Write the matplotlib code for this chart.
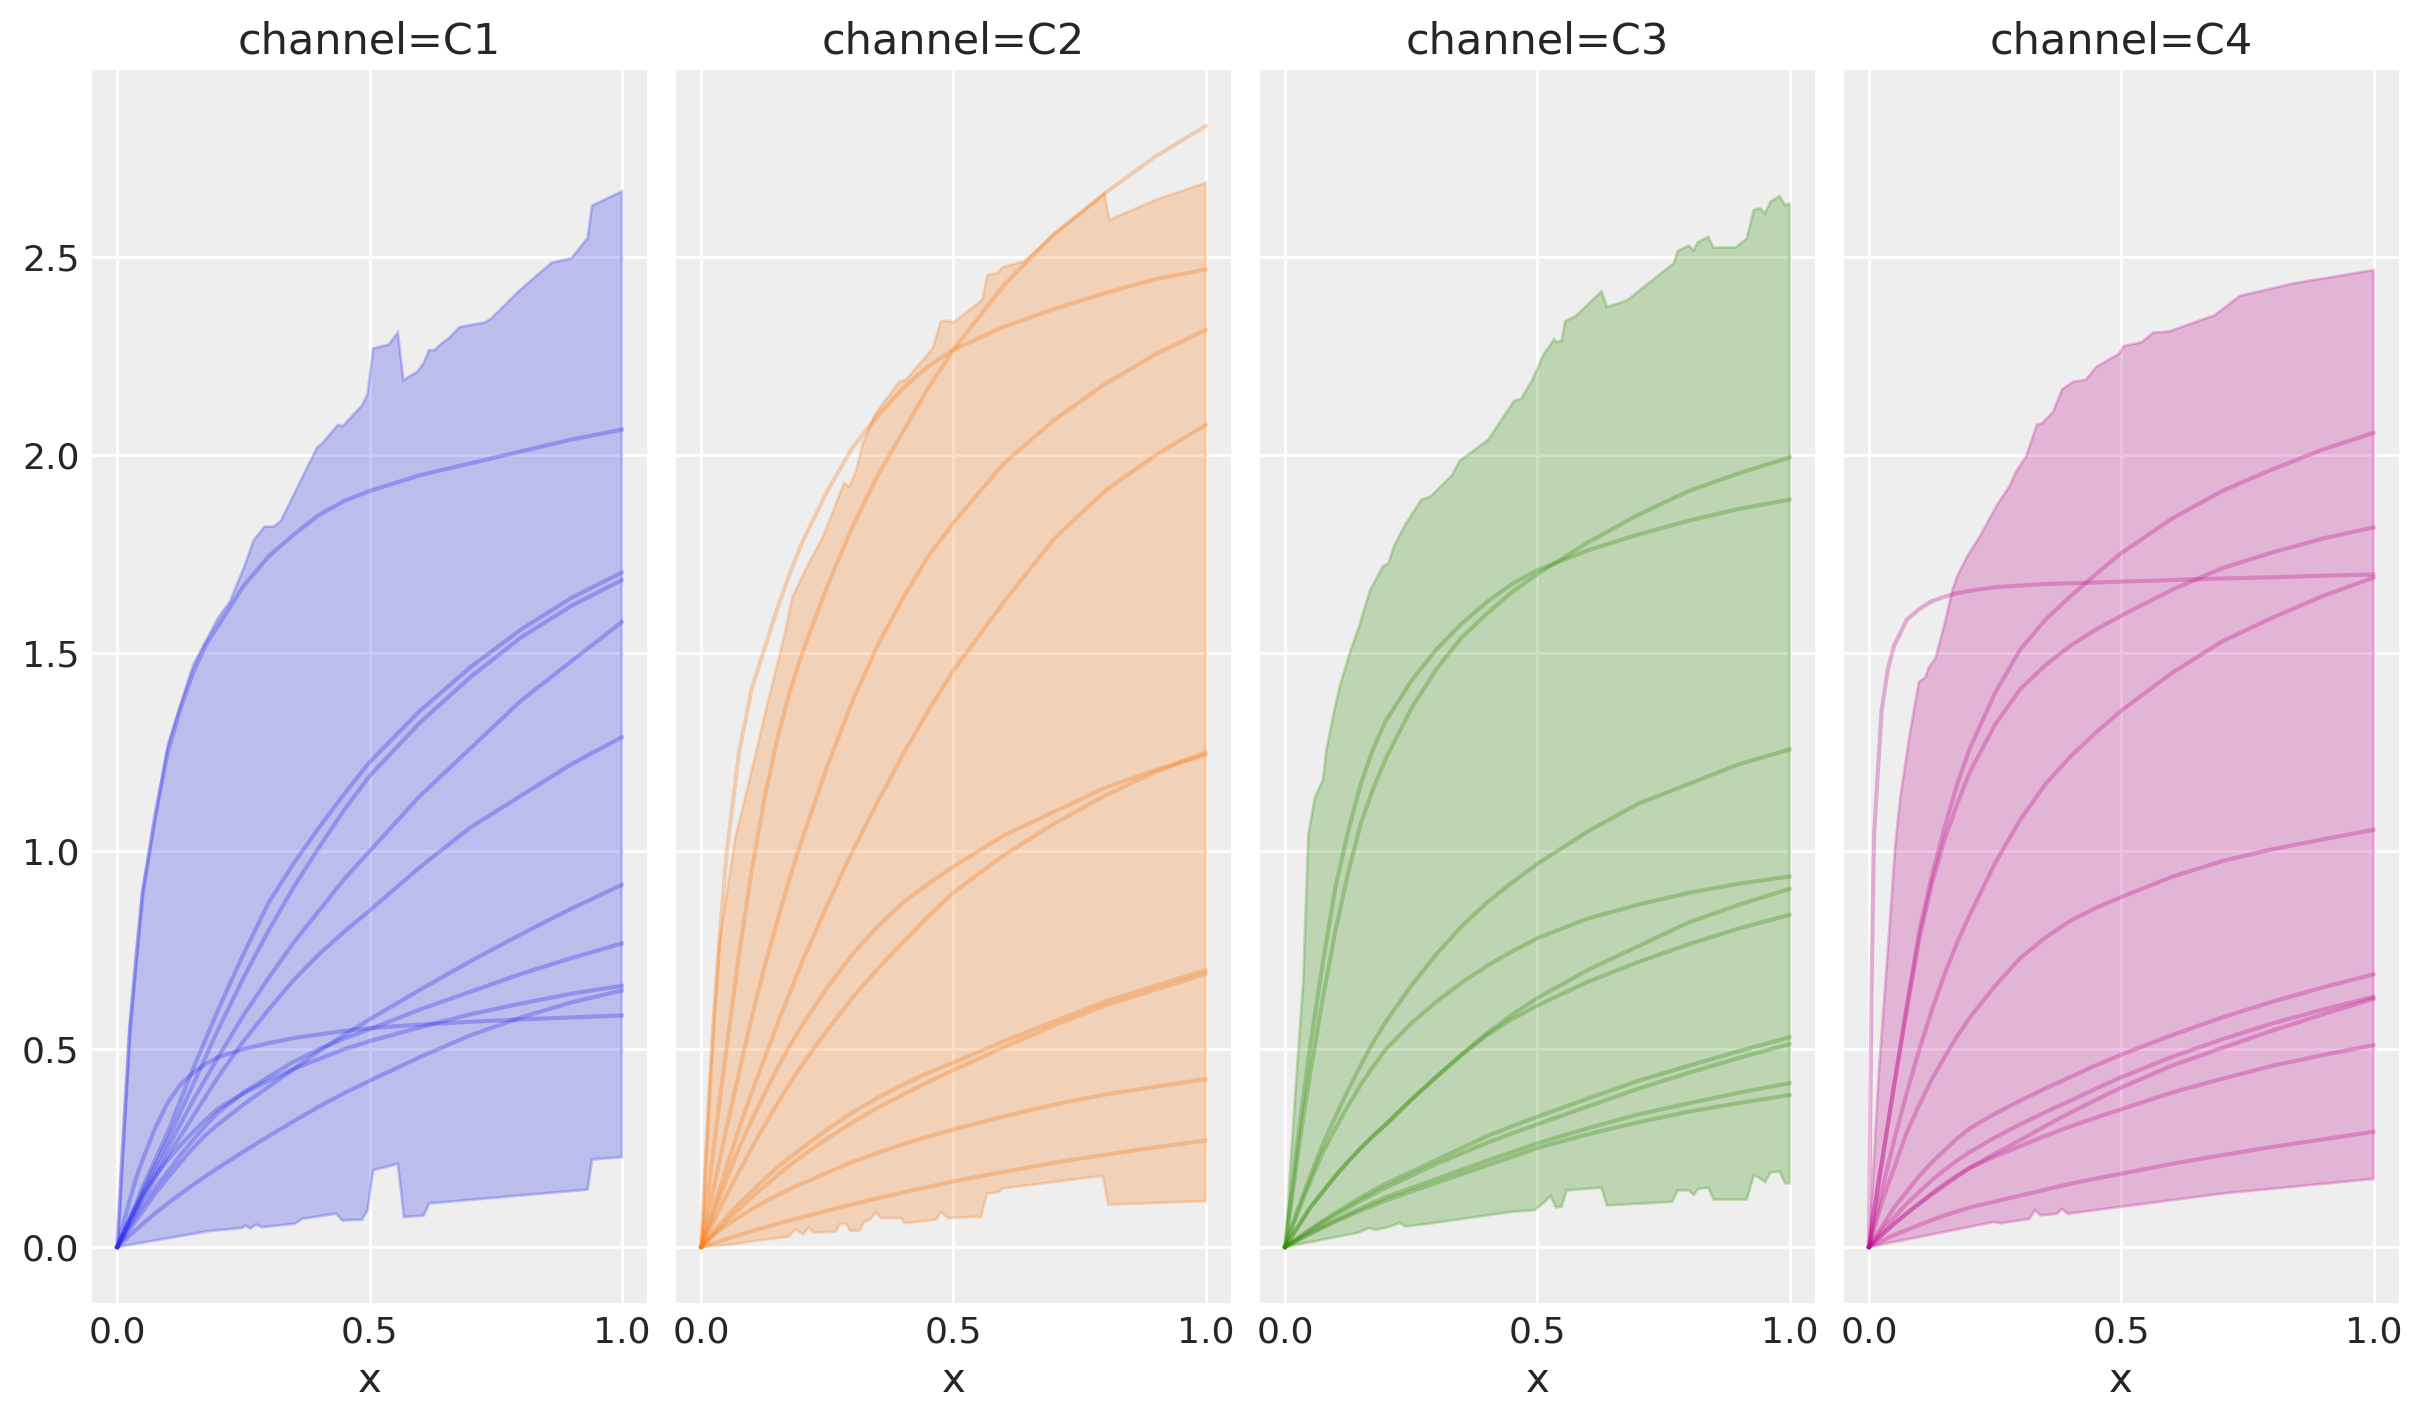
import numpy as np
import matplotlib
matplotlib.use("Agg")
import matplotlib.pyplot as plt

# --- shared x grid for the sampled curves ---
xs = [0, 0.005, 0.01, 0.025, 0.0375, 0.05, 0.075, 0.1, 0.125, 0.15, 0.175, 0.2,
      0.25, 0.3, 0.35, 0.4, 0.45, 0.5, 0.6, 0.7, 0.8, 0.9, 1.0]

channels = ["C1", "C2", "C3", "C4"]
colors = ["#2a2eec", "#fa7c17", "#328c06", "#c10c90"]

# --- channel C1 ---
c1_curves = [
    [0, .12, .23, .55, .73, .89, 1.09, 1.25, 1.36, 1.45, 1.52, 1.57, 1.67, 1.745, 1.80, 1.85, 1.885, 1.91, 1.95, 1.98, 2.01, 2.04, 2.065],
    [0, .015, .03, .075, .11, .15, .22, .29, .37, .45, .525, .6, .74, .87, .97, 1.06, 1.145, 1.225, 1.355, 1.465, 1.56, 1.64, 1.704],
    [0, .014, .028, .07, .105, .14, .205, .27, .34, .41, .48, .55, .68, .8, .91, 1.01, 1.105, 1.19, 1.325, 1.44, 1.54, 1.62, 1.685],
    [0, .013, .026, .065, .098, .13, .19, .25, .31, .37, .425, .48, .585, .68, .77, .85, .93, 1.0, 1.14, 1.26, 1.38, 1.48, 1.579],
    [0, .0125, .025, .06, .09, .12, .175, .23, .28, .33, .38, .43, .52, .6, .675, .74, .797, .85, .96, 1.06, 1.14, 1.22, 1.288],
    [0, .009, .018, .045, .068, .09, .135, .175, .213, .25, .283, .31, .36, .405, .45, .495, .536, .575, .65, .722, .79, .855, .915],
    [0, .011, .022, .055, .08, .105, .15, .19, .232, .27, .307, .34, .39, .43, .468, .5, .527, .55, .6, .645, .69, .73, .767],
    [0, .015, .03, .07, .1, .13, .18, .22, .257, .29, .322, .35, .388, .42, .45, .475, .5, .52, .555, .588, .615, .64, .66],
    [0, .006, .012, .03, .044, .058, .085, .11, .134, .157, .179, .2, .241, .28, .318, .355, .389, .42, .48, .535, .58, .618, .648],
    [0, .025, .05, .12, .175, .22, .3, .365, .41, .44, .462, .48, .5, .515, .528, .537, .546, .553, .562, .569, .575, .58, .585],
]
c1_upper_x = [0, 0.025, 0.05, 0.1, 0.15, 0.2, 0.223, 0.252, 0.27, 0.292, 0.31, 0.324, 0.396, 0.406,
              0.437, 0.447, 0.485, 0.496, 0.507, 0.538, 0.556, 0.567, 0.596, 0.607, 0.618, 0.629,
              0.64, 0.658, 0.678, 0.729, 0.742, 0.8, 0.861, 0.9, 0.932, 0.941, 1.0]
c1_upper_y = [0, 0.56, 0.9, 1.27, 1.47, 1.59, 1.63, 1.72, 1.785, 1.82, 1.82, 1.834, 2.02, 2.03,
              2.077, 2.074, 2.126, 2.155, 2.27, 2.28, 2.31, 2.19, 2.213, 2.233, 2.266, 2.266,
              2.28, 2.297, 2.324, 2.336, 2.347, 2.42, 2.487, 2.498, 2.549, 2.631, 2.667]
c1_lower_x = [0, 0.167, 0.18, 0.247, 0.254, 0.264, 0.275, 0.286, 0.353, 0.366, 0.401, 0.434, 0.446,
              0.485, 0.496, 0.507, 0.556, 0.568, 0.607, 0.618, 0.932, 0.941, 1.0]
c1_lower_y = [0, 0.037, 0.04, 0.048, 0.054, 0.047, 0.057, 0.05, 0.059, 0.071, 0.078, 0.084, 0.067,
              0.069, 0.093, 0.194, 0.21, 0.076, 0.079, 0.11, 0.145, 0.221, 0.227]

# --- channel C2 ---
c2_curves = [
    [0, .05, .1, .25, .38, .5, .74, .95, 1.13, 1.28, 1.4, 1.5, 1.67, 1.82, 1.95, 2.06, 2.17, 2.267, 2.43, 2.56, 2.662, 2.755, 2.832],
    [0, .12, .24, .58, .8, .99, 1.25, 1.41, 1.51, 1.61, 1.7, 1.78, 1.91, 2.02, 2.1, 2.17, 2.225, 2.267, 2.325, 2.37, 2.41, 2.445, 2.47],
    [0, .03, .06, .15, .225, .3, .44, .58, .705, .82, .93, 1.03, 1.215, 1.38, 1.52, 1.64, 1.745, 1.83, 1.98, 2.09, 2.18, 2.255, 2.317],
    [0, .02, .04, .1, .15, .2, .3, .39, .475, .56, .64, .72, .865, 1.0, 1.125, 1.245, 1.355, 1.457, 1.63, 1.79, 1.91, 2.0, 2.077],
    [0, .018, .035, .085, .128, .17, .25, .32, .387, .45, .507, .56, .655, .74, .81, .87, .918, .961, 1.04, 1.1, 1.16, 1.205, 1.243],
    [0, .013, .025, .065, .098, .13, .19, .25, .306, .36, .412, .46, .548, .63, .703, .77, .835, .896, .99, 1.07, 1.14, 1.2, 1.25],
    [0, .008, .015, .04, .058, .075, .11, .14, .171, .2, .226, .25, .297, .34, .377, .41, .44, .466, .52, .57, .62, .66, .699],
    [0, .007, .013, .033, .049, .065, .095, .125, .153, .18, .206, .23, .274, .315, .352, .385, .417, .447, .505, .56, .61, .65, .69],
    [0, .006, .012, .03, .043, .055, .075, .095, .113, .13, .146, .16, .188, .215, .238, .26, .279, .297, .33, .36, .385, .405, .424],
    [0, .002, .004, .01, .015, .02, .03, .04, .049, .058, .067, .075, .092, .108, .123, .138, .152, .166, .19, .213, .233, .252, .269],
]
c2_upper_x = [0, 0.0165, 0.036, 0.067, 0.107, 0.127, 0.166, 0.18, 0.214, 0.24, 0.283, 0.293, 0.307,
              0.32, 0.344, 0.393, 0.406, 0.459, 0.475, 0.488, 0.5, 0.557, 0.567, 0.586, 0.598, 0.64,
              0.7, 0.75, 0.799, 0.809, 0.9, 1.0]
c2_upper_y = [0, 0.41, 0.77, 1.03, 1.24, 1.35, 1.55, 1.64, 1.73, 1.79, 1.93, 1.92, 1.96,
              2.03, 2.103, 2.187, 2.191, 2.271, 2.338, 2.341, 2.336, 2.393, 2.456, 2.46, 2.476, 2.49,
              2.56, 2.61, 2.662, 2.595, 2.645, 2.689]
c2_lower_x = [0, 0.065, 0.115, 0.173, 0.187, 0.202, 0.213, 0.223, 0.267, 0.274, 0.288, 0.295, 0.313,
              0.324, 0.335, 0.346, 0.357, 0.396, 0.403, 0.465, 0.475, 0.49, 0.555, 0.566, 0.587,
              0.598, 0.796, 0.807, 1.0]
c2_lower_y = [0, 0.007, 0.017, 0.026, 0.045, 0.032, 0.05, 0.036, 0.039, 0.058, 0.058, 0.041, 0.041,
              0.064, 0.069, 0.088, 0.073, 0.073, 0.06, 0.069, 0.088, 0.073, 0.077, 0.135, 0.138,
              0.148, 0.18, 0.107, 0.116]

# --- channel C3 ---
c3_curves = [
    [0, .045, .09, .23, .34, .44, .63, .8, .945, 1.07, 1.16, 1.235, 1.36, 1.46, 1.54, 1.6, 1.655, 1.7, 1.78, 1.85, 1.91, 1.955, 1.995],
    [0, .055, .11, .27, .39, .51, .72, .91, 1.05, 1.17, 1.26, 1.33, 1.43, 1.51, 1.575, 1.63, 1.675, 1.71, 1.76, 1.8, 1.835, 1.865, 1.888],
    [0, .02, .04, .095, .138, .18, .26, .33, .397, .46, .518, .57, .66, .74, .81, .87, .921, .968, 1.05, 1.12, 1.17, 1.22, 1.257],
    [0, .018, .035, .085, .126, .165, .24, .3, .357, .41, .457, .5, .565, .62, .668, .71, .747, .78, .83, .865, .895, .918, .936],
    [0, .01, .02, .05, .075, .1, .14, .18, .216, .25, .281, .31, .372, .43, .487, .54, .587, .629, .7, .76, .82, .865, .905],
    [0, .01, .02, .05, .075, .1, .14, .18, .216, .25, .281, .31, .372, .43, .485, .535, .576, .61, .67, .72, .765, .805, .839],
    [0, .0045, .009, .023, .034, .045, .066, .087, .106, .125, .143, .16, .19, .22, .25, .28, .305, .329, .375, .42, .458, .495, .53],
    [0, .0045, .009, .021, .032, .042, .062, .081, .099, .117, .134, .15, .18, .21, .237, .263, .287, .31, .355, .4, .44, .478, .5125],
    [0, .0035, .007, .018, .027, .035, .052, .068, .083, .098, .112, .126, .149, .172, .195, .218, .24, .262, .3, .335, .363, .39, .414],
    [0, .0035, .007, .017, .025, .033, .049, .064, .078, .092, .105, .118, .14, .162, .184, .206, .228, .25, .285, .315, .342, .364, .384],
]
c3_upper_x = [0, 0.0225, 0.036, 0.046, 0.059, 0.075, 0.082, 0.095, 0.108, 0.128, 0.148, 0.168, 0.194,
              0.205, 0.216, 0.238, 0.27, 0.288, 0.331, 0.346, 0.403, 0.454, 0.468, 0.49, 0.512, 0.533,
              0.537, 0.548, 0.555, 0.576, 0.627, 0.638, 0.677, 0.735, 0.771, 0.778, 0.8, 0.81, 0.818,
              0.839, 0.849, 0.893, 0.915, 0.929, 0.942, 0.951, 0.962, 0.98, 0.991, 1.0]
c3_upper_y = [0, 0.43, 0.67, 1.04, 1.135, 1.18, 1.257, 1.34, 1.415, 1.5, 1.573, 1.658, 1.72,
              1.727, 1.771, 1.825, 1.888, 1.896, 1.95, 1.986, 2.04, 2.138, 2.143, 2.191, 2.254, 2.293,
              2.286, 2.289, 2.339, 2.352, 2.414, 2.375, 2.391, 2.45, 2.486, 2.516, 2.53, 2.518, 2.539,
              2.552, 2.525, 2.525, 2.548, 2.62, 2.625, 2.611, 2.641, 2.655, 2.632, 2.636]
c3_lower_x = [0, 0.144, 0.166, 0.18, 0.209, 0.227, 0.238, 0.274, 0.45, 0.494, 0.512, 0.526, 0.537,
              0.548, 0.558, 0.627, 0.638, 0.767, 0.778, 0.8, 0.81, 0.818, 0.839, 0.849, 0.915, 0.929,
              0.942, 0.951, 0.962, 0.98, 0.991, 1.0]
c3_lower_y = [0, 0.036, 0.048, 0.043, 0.052, 0.061, 0.052, 0.057, 0.089, 0.093, 0.111, 0.129, 0.1,
              0.102, 0.143, 0.15, 0.105, 0.114, 0.143, 0.143, 0.132, 0.146, 0.15, 0.12, 0.12, 0.182,
              0.173, 0.164, 0.188, 0.191, 0.161, 0.161]

# --- channel C4 ---
c4_curves = [
    [0, .65, 1.04, 1.355, 1.46, 1.52, 1.585, 1.612, 1.632, 1.643, 1.652, 1.658, 1.667, 1.671, 1.675, 1.677, 1.679, 1.681, 1.685, 1.689, 1.692, 1.696, 1.699],
    [0, .045, .09, .21, .31, .41, .61, .8, .94, 1.06, 1.17, 1.26, 1.4, 1.51, 1.585, 1.645, 1.7, 1.753, 1.84, 1.91, 1.965, 2.015, 2.057],
    [0, .045, .09, .21, .31, .41, .6, .78, .92, 1.03, 1.12, 1.2, 1.32, 1.41, 1.47, 1.52, 1.56, 1.595, 1.66, 1.715, 1.755, 1.79, 1.818],
    [0, .03, .06, .14, .205, .27, .39, .5, .6, .69, .77, .84, .97, 1.08, 1.17, 1.24, 1.3, 1.355, 1.45, 1.53, 1.59, 1.645, 1.691],
    [0, .023, .045, .11, .157, .2, .29, .36, .425, .48, .533, .58, .66, .73, .782, .825, .857, .884, .935, .975, 1.005, 1.03, 1.054],
    [0, .01, .02, .05, .075, .1, .14, .18, .214, .245, .274, .3, .337, .37, .401, .43, .459, .486, .535, .58, .62, .656, .689],
    [0, .008, .016, .04, .058, .075, .11, .14, .169, .195, .219, .24, .277, .31, .341, .37, .4, .429, .48, .525, .565, .6, .632],
    [0, .006, .012, .03, .045, .06, .085, .11, .133, .155, .178, .2, .236, .27, .306, .34, .372, .403, .458, .503, .547, .588, .627],
    [0, .006, .012, .03, .044, .058, .085, .11, .136, .16, .181, .2, .229, .255, .281, .305, .327, .348, .39, .425, .458, .485, .51],
    [0, .003, .006, .015, .023, .03, .043, .056, .068, .08, .09, .1, .115, .13, .145, .16, .173, .185, .21, .232, .253, .272, .291],
]
c4_upper_x = [0, 0.02, 0.042, 0.052, 0.062, 0.082, 0.099, 0.112, 0.118, 0.132, 0.142, 0.152, 0.165,
              0.175, 0.194, 0.221, 0.254, 0.279, 0.29, 0.311, 0.333, 0.343, 0.365, 0.383, 0.405,
              0.43, 0.451, 0.495, 0.505, 0.541, 0.563, 0.595, 0.685, 0.735, 0.843, 1.0]
c4_upper_y = [0, 0.45, 0.83, 1.013, 1.135, 1.305, 1.427, 1.44, 1.463, 1.488, 1.536, 1.585, 1.658,
              1.695, 1.743, 1.798, 1.875, 1.923, 1.956, 1.996, 2.078, 2.081, 2.11, 2.167, 2.186,
              2.191, 2.224, 2.256, 2.276, 2.286, 2.31, 2.313, 2.354, 2.403, 2.435, 2.468]
c4_lower_x = [0, 0.247, 0.261, 0.318, 0.329, 0.34, 0.372, 0.383, 0.394, 0.7, 1.0]
c4_lower_y = [0, 0.063, 0.06, 0.071, 0.093, 0.08, 0.084, 0.096, 0.084, 0.135, 0.172]

curves = [c1_curves, c2_curves, c3_curves, c4_curves]
bands = [
    (c1_upper_x, c1_upper_y, c1_lower_x, c1_lower_y),
    (c2_upper_x, c2_upper_y, c2_lower_x, c2_lower_y),
    (c3_upper_x, c3_upper_y, c3_lower_x, c3_lower_y),
    (c4_upper_x, c4_upper_y, c4_lower_x, c4_lower_y),
]

# --- style close to arviz-darkgrid ---
text_c = "#262626"
plt.rcParams.update({
    "font.family": ["DejaVu Sans"],
    "axes.facecolor": "#eeeeee",
    "axes.edgecolor": "white",
    "axes.grid": True,
    "axes.axisbelow": True,
    "grid.color": "white",
    "grid.linewidth": 1.0,
    "text.color": text_c,
    "axes.labelcolor": text_c,
    "xtick.color": text_c,
    "ytick.color": text_c,
})

fig, axes = plt.subplots(1, 4, sharey=True, figsize=(2423 / 200, 1423 / 200), dpi=200)
fig.subplots_adjust(left=0.038, right=0.990, bottom=0.0843, top=0.9508, wspace=0.052)

for ax, name, col, chan_curves, (ux, uy, lx, ly) in zip(axes, channels, colors, curves, bands):
    # hdi-like band as one polygon: upper edge out, lower edge back
    px = np.concatenate([ux, lx[::-1]])
    py = np.concatenate([uy, ly[::-1]])
    ax.fill(px, py, color=col, alpha=0.25, lw=1.0)
    for c in chan_curves:
        ax.plot(xs, c, color=col, alpha=0.3, lw=1.5, solid_joinstyle="round")
    ax.set_title(f"channel={name}", fontsize=15.5)
    ax.set_xlabel("x", fontsize=14.5)
    ax.set_xticks([0, 0.5, 1.0])
    ax.tick_params(length=0, labelsize=13, pad=4.5)
    for s in ax.spines.values():
        s.set_visible(False)

axes[0].set_yticks([0, 0.5, 1.0, 1.5, 2.0, 2.5])
axes[0].set_xlim(-0.05, 1.05)

fig.savefig("out.png", dpi=200)
